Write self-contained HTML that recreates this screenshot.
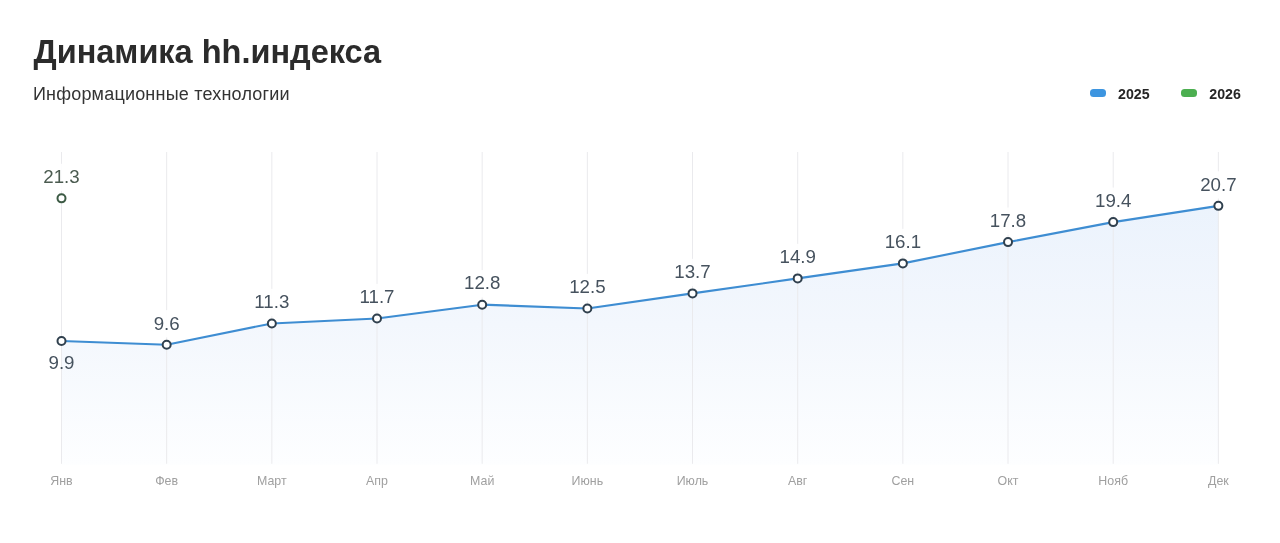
<!DOCTYPE html>
<html lang="ru"><head><meta charset="utf-8"><title>Динамика hh.индекса</title>
<style>
html,body{margin:0;padding:0;background:#fff;}
body{width:1280px;height:543px;overflow:hidden;position:relative;font-family:"Liberation Sans",Arial,"Noto Sans CJK SC",sans-serif;}
h1{position:absolute;left:33.5px;top:35.8px;margin:0;font-size:32.5px;line-height:1;font-weight:700;color:#2b2b2b;white-space:nowrap;}
.sub{position:absolute;left:32.9px;top:84.9px;margin:0;font-size:18px;letter-spacing:0.2px;line-height:1;color:#333;white-space:nowrap;}
.legend{position:absolute;top:0;left:0;font-size:14.2px;font-weight:700;color:#262626;}
.legend .sw{position:absolute;width:16px;height:8px;border-radius:3.5px;}
.legend .lt{position:absolute;line-height:1;white-space:nowrap;}
svg{position:absolute;left:0;top:0;}
</style></head>
<body>
<h1 id="t">Динамика hh.индекса</h1>
<div class="sub" id="s">Информационные технологии</div>
<div class="legend">
  <span class="sw" style="left:1089.5px;top:89px;background:#3d95e0;"></span>
  <span class="lt" id="l1" style="left:1118px;top:86.6px;">2025</span>
  <span class="sw" style="left:1181px;top:89px;background:#4caf50;"></span>
  <span class="lt" id="l2" style="left:1209.3px;top:86.6px;">2026</span>
</div>
<svg width="1280" height="543" viewBox="0 0 1280 543">
<defs>
<linearGradient id="fg" x1="0" y1="152.0" x2="0" y2="464.8" gradientUnits="userSpaceOnUse">
<stop offset="0" stop-color="#e8f1fc"/>
<stop offset="0.55" stop-color="#f3f7fd"/>
<stop offset="1" stop-color="#fdfeff"/>
</linearGradient>
</defs>
<path d="M61.50,464.80 L61.50,340.95 L166.67,344.70 L271.84,323.44 L377.01,318.43 L482.18,304.67 L587.35,308.43 L692.52,293.41 L797.69,278.40 L902.86,263.39 L1008.03,242.12 L1113.20,222.11 L1218.37,205.84 L1218.37,464.80 Z" fill="url(#fg)" stroke="none"/>
<g stroke="#eaeaed" stroke-width="1">
<line x1="61.50" y1="152.0" x2="61.50" y2="463.8" />
<line x1="166.67" y1="152.0" x2="166.67" y2="463.8" />
<line x1="271.84" y1="152.0" x2="271.84" y2="463.8" />
<line x1="377.01" y1="152.0" x2="377.01" y2="463.8" />
<line x1="482.18" y1="152.0" x2="482.18" y2="463.8" />
<line x1="587.35" y1="152.0" x2="587.35" y2="463.8" />
<line x1="692.52" y1="152.0" x2="692.52" y2="463.8" />
<line x1="797.69" y1="152.0" x2="797.69" y2="463.8" />
<line x1="902.86" y1="152.0" x2="902.86" y2="463.8" />
<line x1="1008.03" y1="152.0" x2="1008.03" y2="463.8" />
<line x1="1113.20" y1="152.0" x2="1113.20" y2="463.8" />
<line x1="1218.37" y1="152.0" x2="1218.37" y2="463.8" />
</g>
<g fill="#fff" fill-opacity="0.9">
<rect x="149.67" y="310.11" width="33.99" height="27.39" />
<rect x="249.64" y="288.85" width="44.39" height="27.39" />
<rect x="354.81" y="283.84" width="44.39" height="27.39" />
<rect x="459.98" y="270.08" width="44.39" height="27.39" />
<rect x="565.15" y="273.84" width="44.39" height="27.39" />
<rect x="670.32" y="258.82" width="44.39" height="27.39" />
<rect x="775.49" y="243.81" width="44.39" height="27.39" />
<rect x="880.66" y="228.80" width="44.39" height="27.39" />
<rect x="985.83" y="207.53" width="44.39" height="27.39" />
<rect x="1091.00" y="187.52" width="44.39" height="27.39" />
<rect x="1196.17" y="171.25" width="44.39" height="27.39" />
<rect x="39.30" y="163.75" width="44.39" height="27.39" />
</g>
<polyline points="61.50,340.95 166.67,344.70 271.84,323.44 377.01,318.43 482.18,304.67 587.35,308.43 692.52,293.41 797.69,278.40 902.86,263.39 1008.03,242.12 1113.20,222.11 1218.37,205.84" fill="none" stroke="#3e8dd2" stroke-width="2.1" stroke-linejoin="round"/>
<g fill="#fff" stroke="#30404e" stroke-width="2">
<circle cx="61.50" cy="340.95" r="4" />
<circle cx="166.67" cy="344.70" r="4" />
<circle cx="271.84" cy="323.44" r="4" />
<circle cx="377.01" cy="318.43" r="4" />
<circle cx="482.18" cy="304.67" r="4" />
<circle cx="587.35" cy="308.43" r="4" />
<circle cx="692.52" cy="293.41" r="4" />
<circle cx="797.69" cy="278.40" r="4" />
<circle cx="902.86" cy="263.39" r="4" />
<circle cx="1008.03" cy="242.12" r="4" />
<circle cx="1113.20" cy="222.11" r="4" />
<circle cx="1218.37" cy="205.84" r="4" />
</g>
<circle cx="61.50" cy="198.34" r="4" fill="#fff" stroke="#3c5a44" stroke-width="2"/>
<g font-family="Liberation Sans, Arial, sans-serif" font-size="18.7" fill="#46525e" text-anchor="middle">
<text x="61.50" y="368.95">9.9</text>
<text x="166.67" y="329.50">9.6</text>
<text x="271.84" y="308.24">11.3</text>
<text x="377.01" y="303.23">11.7</text>
<text x="482.18" y="289.47">12.8</text>
<text x="587.35" y="293.23">12.5</text>
<text x="692.52" y="278.21">13.7</text>
<text x="797.69" y="263.20">14.9</text>
<text x="902.86" y="248.19">16.1</text>
<text x="1008.03" y="226.92">17.8</text>
<text x="1113.20" y="206.91">19.4</text>
<text x="1218.37" y="190.64">20.7</text>
</g>
<text x="61.50" y="183.14" font-family="Liberation Sans, Arial, sans-serif" font-size="18.7" fill="#4b5b50" text-anchor="middle">21.3</text>
<g font-family="Liberation Sans, Arial, sans-serif" font-size="12.4" fill="#a0a0a0" text-anchor="middle">
<text x="61.50" y="484.6">Янв</text>
<text x="166.67" y="484.6">Фев</text>
<text x="271.84" y="484.6">Март</text>
<text x="377.01" y="484.6">Апр</text>
<text x="482.18" y="484.6">Май</text>
<text x="587.35" y="484.6">Июнь</text>
<text x="692.52" y="484.6">Июль</text>
<text x="797.69" y="484.6">Авг</text>
<text x="902.86" y="484.6">Сен</text>
<text x="1008.03" y="484.6">Окт</text>
<text x="1113.20" y="484.6">Нояб</text>
<text x="1218.37" y="484.6">Дек</text>
</g>
</svg>
</body></html>
